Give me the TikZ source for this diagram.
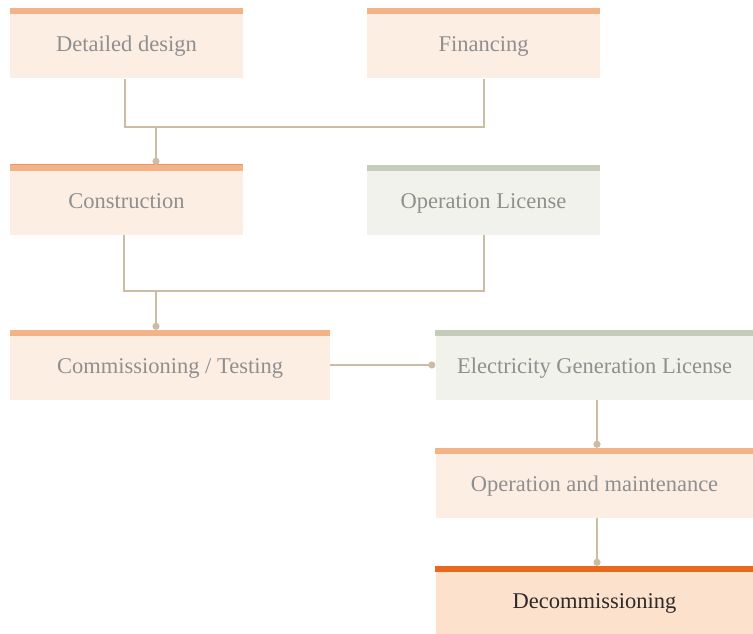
\documentclass[tikz,border=0pt]{standalone}
\usepackage{fontspec}
\setmainfont{Liberation Serif}
\usetikzlibrary{arrows.meta}
\definecolor{barO}{HTML}{F4B287}
\definecolor{fillO}{HTML}{FDEEE4}
\definecolor{barG}{HTML}{C5CDB8}
\definecolor{fillG}{HTML}{F2F2EC}
\definecolor{barD}{HTML}{E8681C}
\definecolor{fillD}{HTML}{FCE1CD}
\definecolor{lineC}{HTML}{CDBCA4}
\definecolor{txtG}{HTML}{8F8F8F}
\definecolor{txtD}{HTML}{2E2A28}
\tikzset{
  x=1pt,y=1pt,
  box/.style={rectangle, inner sep=0pt, minimum width=233pt, minimum height=70pt,
    text height=19pt, text depth=2pt,
    font=\fontsize{22.5}{26}\selectfont, text=txtG, fill=fillO},
  wide/.style={minimum width=318pt},
  greenbox/.style={fill=fillG},
  decbox/.style={fill=fillD, text=txtD},
  conn/.style={draw=lineC, line width=2pt},
  dotend/.style={-{Circle[length=7pt,width=7pt]}}
}
\begin{document}
\begin{tikzpicture}
\useasboundingbox (0,0) rectangle (753,-634);
% boxes
\node[box] (dd) at (126.5,-43.5) {Detailed design};
\node[box] (fin) at (483.5,-43.5) {Financing};
\node[box] (con) at (126.5,-200) {Construction};
\node[box,greenbox] (opl) at (483.5,-200) {Operation License};
\node[box,minimum width=320pt] (com) at (170,-365) {Commissioning / Testing};
\node[box,wide,greenbox] (egl) at (594.5,-365) {Electricity Generation License};
\node[box,wide] (om) at (594.5,-483) {Operation and maintenance};
\node[box,wide,decbox,minimum height=68pt] (dec) at (594.5,-600) {Decommissioning};
% top bars
\fill[barO] (dd.north west) rectangle ([yshift=-6pt]dd.north east);
\fill[barO] (fin.north west) rectangle ([yshift=-6pt]fin.north east);
\fill[barO] (con.north west) rectangle ([yshift=-6pt]con.north east);
\draw[barD!70, line width=0.8pt] (con.north west) -- (con.north east);
\fill[barG] (opl.north west) rectangle ([yshift=-6pt]opl.north east);
\fill[barO] (com.north west) rectangle ([yshift=-6pt]com.north east);
\fill[barG] (egl.north west) rectangle ([yshift=-6pt]egl.north east);
\fill[barO] (om.north west) rectangle ([yshift=-6pt]om.north east);
\fill[barD] (dec.north west) rectangle ([yshift=-6pt]dec.north east);
% connectors
\coordinate (j1) at (156,-127);
\coordinate (j2) at (156,-291);
\draw[conn] ([xshift=-1.5pt]dd.south) |- (j1) -| (fin.south);
\draw[conn,dotend] (j1) -- (con.north -| j1);
\draw[conn] ([xshift=-2.5pt]con.south) |- (j2) -| (opl.south);
\draw[conn,dotend] (j2) -- (com.north -| j2);
\draw[conn,dotend] (com.east) -- (egl.west);
\draw[conn,dotend] ([xshift=2.5pt]egl.south) -- ([xshift=2.5pt]om.north);
\draw[conn,dotend] ([xshift=2.5pt]om.south) -- ([xshift=2.5pt]dec.north);
\end{tikzpicture}
\end{document}
